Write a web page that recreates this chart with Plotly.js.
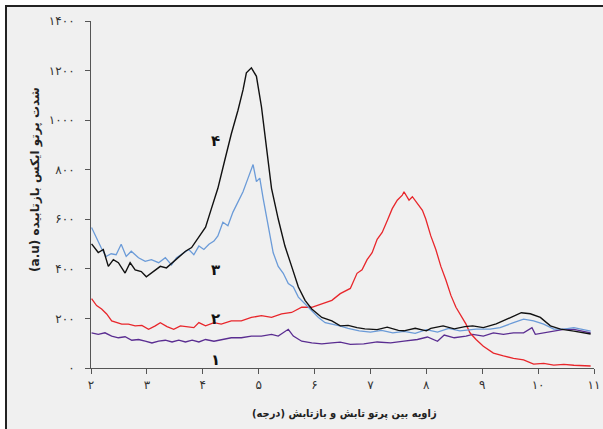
<!DOCTYPE html>
<html>
<head>
<meta charset="utf-8">
<script src="https://cdn.plot.ly/plotly-3.0.1.min.js"></script>
<style>
  html, body { margin:0; padding:0; background:#ffffff; width:603px; height:429px; overflow:hidden; }
  #frame { position:absolute; left:5px; top:5px; width:598px; height:424px; border-top:2px solid #222; border-left:2px solid #222; background:#f0f0f0; }
  #chart { width:598px; height:424px; }
  #chart .annotation-text { direction: rtl; unicode-bidi: embed; }
</style>
</head>
<body>
<div id="frame"><div id="chart"></div></div>
<script>
// Curve 4 (black)
const x4 = [2.01,2.13,2.22,2.31,2.40,2.49,2.61,2.70,2.79,2.90,2.99,3.12,3.24,3.35,3.48,3.57,3.69,3.80,3.93,4.05,4.15,4.27,4.39,4.51,4.63,4.72,4.78,4.87,4.96,5.05,5.14,5.23,5.35,5.47,5.59,5.71,5.83,5.95,6.13,6.31,6.46,6.60,6.76,6.90,7.12,7.30,7.50,7.60,7.80,8.00,8.08,8.30,8.50,8.69,8.83,9.02,9.25,9.50,9.70,9.86,10.04,10.22,10.40,10.64,10.94];
const y4 = [501,466,478,410,437,425,383,425,396,389,368,389,410,404,430,450,471,486,527,568,640,725,835,944,1040,1122,1191,1211,1177,1054,889,725,601,492,410,327,273,238,204,190,170,172,163,158,155,165,152,150,160,150,160,170,158,167,170,163,178,204,223,219,204,170,157,149,137];

// Curve 3 (blue)
const x3 = [2.01,2.09,2.18,2.27,2.36,2.45,2.54,2.63,2.72,2.85,2.97,3.08,3.21,3.33,3.44,3.53,3.66,3.75,3.84,3.93,4.02,4.11,4.20,4.27,4.36,4.45,4.54,4.63,4.72,4.81,4.90,4.96,5.02,5.08,5.17,5.26,5.35,5.44,5.53,5.62,5.71,5.83,5.95,6.07,6.19,6.34,6.45,6.60,6.80,7.00,7.20,7.40,7.60,7.80,8.00,8.20,8.40,8.60,8.89,9.14,9.32,9.56,9.74,9.92,10.10,10.28,10.46,10.64,10.94];
const y3 = [567,527,486,450,461,457,499,450,471,445,430,437,425,445,416,445,466,478,457,492,478,499,512,533,588,574,629,670,711,766,821,752,766,684,574,465,410,382,341,327,286,259,231,204,183,177,170,160,150,145,152,142,148,140,155,145,160,150,157,157,163,183,197,190,177,157,157,163,149];

// Curve 2 (red)
const x2 = [2.01,2.10,2.19,2.28,2.37,2.46,2.55,2.67,2.79,2.91,3.03,3.15,3.24,3.36,3.48,3.60,3.72,3.84,3.93,4.05,4.20,4.33,4.51,4.69,4.87,5.05,5.23,5.41,5.59,5.77,5.95,6.13,6.31,6.46,6.52,6.64,6.76,6.85,6.94,7.03,7.12,7.21,7.30,7.39,7.48,7.57,7.60,7.69,7.75,7.84,7.93,7.99,8.08,8.17,8.26,8.35,8.44,8.53,8.62,8.71,8.78,8.89,9.02,9.20,9.38,9.56,9.74,9.92,10.10,10.28,10.46,10.64,10.94];
const y2 = [280,252,238,218,190,183,177,177,170,172,156,170,183,167,156,170,167,163,183,170,183,177,190,190,204,211,204,218,224,245,245,259,273,300,307,321,382,396,437,465,519,547,594,643,677,697,711,677,691,663,636,601,533,478,410,355,293,245,211,177,142,115,88,60,49,39,33,16,19,12,15,11,8];

// Curve 1 (purple)
const x1 = [2.01,2.13,2.25,2.37,2.49,2.61,2.73,2.85,2.97,3.09,3.21,3.33,3.45,3.57,3.69,3.81,3.93,4.05,4.20,4.33,4.51,4.69,4.87,5.05,5.23,5.35,5.53,5.62,5.77,5.95,6.13,6.31,6.46,6.64,6.88,7.12,7.36,7.60,7.84,8.02,8.20,8.32,8.50,8.71,8.83,9.02,9.20,9.38,9.56,9.74,9.89,9.95,10.10,10.28,10.46,10.64,10.94];
const y1 = [142,136,142,129,122,126,112,115,108,101,108,112,105,112,105,112,105,115,108,115,122,122,129,129,136,129,156,129,108,101,97,101,104,95,97,105,101,108,115,125,108,133,122,129,136,129,142,136,142,142,163,136,142,149,156,156,142];

const xTickVals = [2,3,4,5,6,7,8,9,10,11];
const xTickText = ['۲','۳','۴','۵','۶','۷','۸','۹','۱۰','۱۱'];
const yTickVals = [0,200,400,600,800,1000,1200,1400];
const yTickText = ['۰','۲۰۰','۴۰۰','۶۰۰','۸۰۰','۱۰۰۰','۱۲۰۰','۱۴۰۰'];

const labelNames = ['۴','۳','۲','۱'];
const labelX = [4.22,4.22,4.22,4.22];
const labelY = [917,396,199,34];

const xTitle = 'زاویه بین پرتو تابش و بازتابش (درجه)';
const yTitle = 'شدت پرتو ایکس بازتابیده (a.u)';

const FONT = 'DejaVu Sans, Noto Sans, sans-serif';
const FONT_C = 'DejaVu Sans Condensed, DejaVu Sans, sans-serif';

const traces = [
  {x:x1, y:y1, mode:'lines', line:{color:'#5a2d91', width:1.3}, hoverinfo:'skip'},
  {x:x2, y:y2, mode:'lines', line:{color:'#e8262b', width:1.3}, hoverinfo:'skip'},
  {x:x3, y:y3, mode:'lines', line:{color:'#6b9bd8', width:1.3}, hoverinfo:'skip'},
  {x:x4, y:y4, mode:'lines', line:{color:'#111111', width:1.4}, hoverinfo:'skip'}
];

const annotations = labelNames.map((t,i)=>({
  x: labelX[i], y: labelY[i], xref:'x', yref:'y', text:'<b>'+t+'</b>',
  showarrow:false, font:{family:FONT, size:15, color:'#111'}
}));
annotations.push({
  x: 0.5045, y: -0.132, xref:'paper', yref:'paper', xanchor:'center', yanchor:'middle',
  text:'<b>'+xTitle+'</b>', showarrow:false, font:{family:FONT_C, size:11, color:'#222'}
});
annotations.push({
  x: -0.11, y: 0.544, xref:'paper', yref:'paper', xanchor:'center', yanchor:'middle', textangle:-90,
  text:'<b>'+yTitle+'</b>', showarrow:false, font:{family:FONT, size:12, color:'#222'}
});

const layout = {
  width:598, height:424,
  margin:{l:84, r:11, t:14, b:63, pad:0},
  paper_bgcolor:'#f0f0f0', plot_bgcolor:'#f0f0f0',
  showlegend:false,
  font:{family:FONT, color:'#333'},
  xaxis:{
    range:[2,11], tickvals:xTickVals, ticktext:xTickText,
    showline:true, linecolor:'#555', linewidth:1, ticks:'outside', ticklen:5, tickcolor:'#555',
    showgrid:false, zeroline:false, tickfont:{family:FONT, size:12, color:'#333'},
    ticklabelstandoff:1
  },
  yaxis:{
    range:[0,1400], tickvals:yTickVals, ticktext:yTickText,
    showline:true, linecolor:'#555', linewidth:1, ticks:'outside', ticklen:5, tickcolor:'#555',
    showgrid:false, zeroline:false, tickfont:{family:FONT, size:12, color:'#333'},
    ticklabelstandoff:8
  },
  annotations: annotations
};

Plotly.newPlot('chart', traces, layout, {staticPlot:true, displayModeBar:false});
</script>
</body>
</html>
